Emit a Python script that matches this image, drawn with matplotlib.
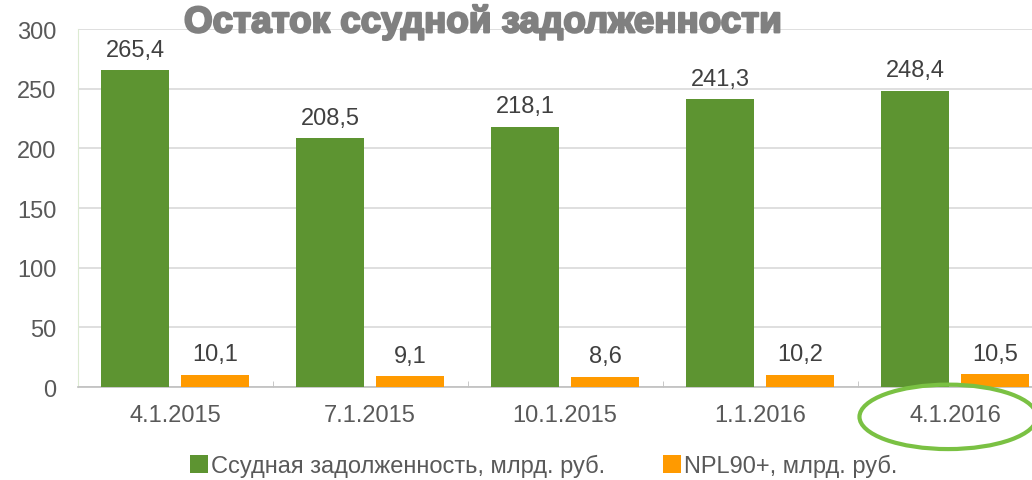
import matplotlib
matplotlib.use("Agg")
import matplotlib.pyplot as plt
import matplotlib.patheffects as pe
from matplotlib.patches import Ellipse
import numpy as np

plt.rcParams["font.family"] = ["Liberation Sans", "DejaVu Sans"]

dates = ["4.1.2015", "7.1.2015", "10.1.2015", "1.1.2016", "4.1.2016"]
loans = [265.4, 208.5, 218.1, 241.3, 248.4]
npl = [10.1, 9.1, 8.6, 10.2, 10.5]
loans_label = "Ссудная задолженность, млрд. руб."
npl_label = "NPL90+, млрд. руб."
title = "Остаток ссудной задолженности"

green = "#5D9431"
orange = "#FF9A00"
text_col = "#404040"
tick_col = "#595959"


def fmt(v):
    return f"{v:.1f}".replace(".", ",")


fig = plt.figure(figsize=(10.32, 4.81), dpi=100)
ax = fig.add_axes([0.0751, 0.1933, 0.9448, 0.7443])

x = np.arange(len(dates))
w = 0.345
off = 0.205
b1 = ax.bar(x - off, loans, w, color=green, label=loans_label, zorder=3)
b2 = ax.bar(x + off, npl, w, color=orange, label=npl_label, zorder=3)

for bars, vals in ((b1, loans), (b2, npl)):
    for r, v in zip(bars, vals):
        ax.text(r.get_x() + r.get_width() / 2, v + 8, fmt(v), ha="center",
                va="bottom", fontsize=17, color=text_col)

ax.set_xlim(-0.5, len(dates) - 0.5)
ax.set_ylim(0, 300)
ax.set_yticks(range(0, 301, 50))
ax.set_xticks(x)
ax.set_xticklabels(dates)
ax.set_xticks(np.arange(-0.5, len(dates), 0.5), minor=True)
ax.tick_params(axis="y", length=0, labelsize=17, labelcolor=tick_col, pad=15)
ax.tick_params(axis="x", which="major", length=0, labelsize=17,
               labelcolor=tick_col, pad=12)
ax.tick_params(axis="x", which="minor", direction="in", length=4,
               color="#BFBFBF")
ax.grid(axis="y", color="#D9D9D9", linewidth=1.2, zorder=0)
for s in ("top", "right"):
    ax.spines[s].set_visible(False)
ax.spines["left"].set_color("#DCEBD2")
ax.spines["bottom"].set_color("#BFBFBF")
ax.spines["bottom"].set_linewidth(1.2)

ax.add_patch(Ellipse((3.965, -25), 0.91, 54, fill=False, edgecolor="#7AC143",
                     linewidth=3, clip_on=False, zorder=5))

fig.text(0.467, 0.951, title, ha="center", va="center", fontsize=26.5,
         fontweight="bold", color="#808080",
         path_effects=[pe.withStroke(linewidth=1.6, foreground="#808080")])

fig.legend(handles=[b1, b2], loc="center", bbox_to_anchor=(0.527, 0.03),
           ncol=2, frameon=False, fontsize=17, labelcolor=tick_col,
           handlelength=0.75, handleheight=0.75, handletextpad=0.15,
           columnspacing=2.45)

fig.savefig("out.png", dpi=100)
